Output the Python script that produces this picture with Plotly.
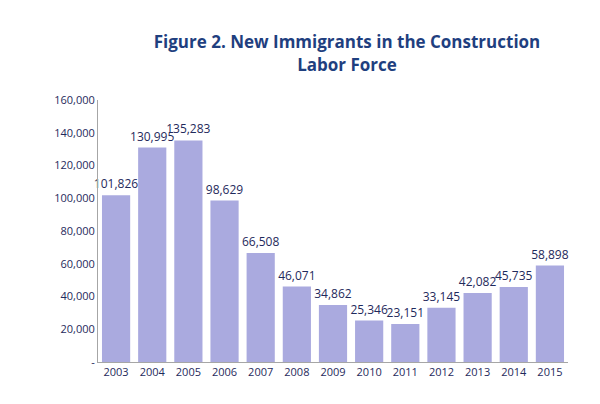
import plotly.graph_objects as go

years = ["2003", "2004", "2005", "2006", "2007", "2008", "2009",
         "2010", "2011", "2012", "2013", "2014", "2015"]
immigrants = [101826, 130995, 135283, 98629, 66508, 46071, 34862,
              25346, 23151, 33145, 42082, 45735, 58898]
tick_vals = [0, 20000, 40000, 60000, 80000, 100000, 120000, 140000, 160000]
tick_text = ["-", "20,000", "40,000", "60,000", "80,000", "100,000",
             "120,000", "140,000", "160,000"]

fig = go.Figure(go.Bar(
    x=years,
    y=immigrants,
    text=[f"{v:,}" for v in immigrants],
    textposition="outside",
    textfont=dict(color="#1f2a5c", size=12),
    cliponaxis=False,
    marker=dict(color="#aaaadf", line=dict(width=0)),
    width=0.78,
))

fig.update_layout(
    title=dict(
        text="<b>Figure 2. New Immigrants in the Construction<br>Labor Force</b>",
        x=0.565, xanchor="center", y=0.9,
        font=dict(size=17, color="#1f3f7f"),
    ),
    uniformtext=dict(minsize=12, mode="show"),
    width=600, height=404,
    plot_bgcolor="white", paper_bgcolor="white",
    font=dict(family="Open Sans, Arial, sans-serif", size=11, color="#1f2a5c"),
    margin=dict(l=90, r=40, t=92, b=50),
    xaxis=dict(showline=True, linecolor="#a6a6a6", ticks="", showgrid=False),
    yaxis=dict(range=[0, 160000], tickvals=tick_vals, ticktext=tick_text,
               showline=True, linecolor="#a6a6a6", showgrid=False),
    showlegend=False,
)

fig.write_html("out.html")
